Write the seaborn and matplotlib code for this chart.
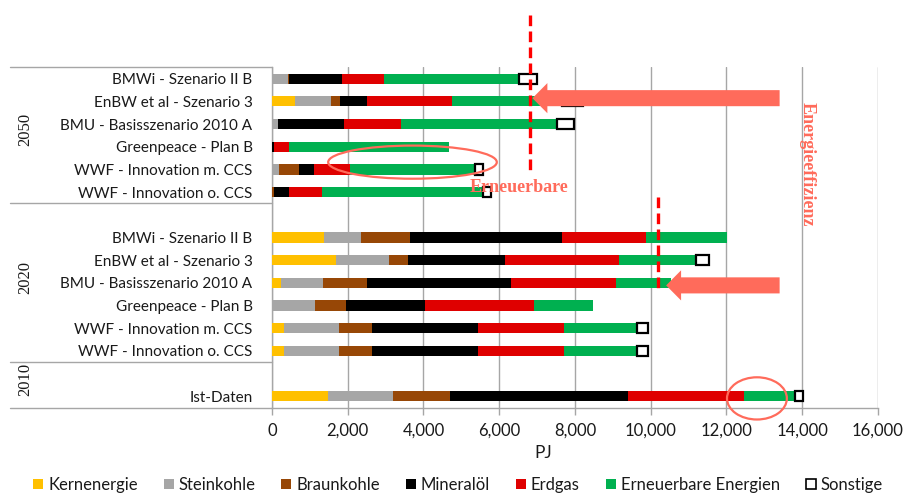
import numpy as np
import pandas as pd
import matplotlib
matplotlib.use("Agg")
import matplotlib.pyplot as plt
import seaborn as sns
from matplotlib.patches import Patch, Ellipse, FancyArrow
from matplotlib.ticker import FuncFormatter

# ---------------- data ----------------
years = ["2050"] * 6 + ["2020"] * 6 + ["2010"]
scenarios = ["BMWi - Szenario II B", "EnBW et al - Szenario 3", "BMU - Basisszenario 2010 A",
             "Greenpeace - Plan B", "WWF - Innovation m. CCS", "WWF - Innovation o. CCS"] * 2 + ["Ist-Daten"]

kernenergie = [0, 610, 0, 0, 0, 0,        1370, 1700, 240, 0, 320, 320,      1480]
steinkohle  = [410, 940, 150, 0, 190, 0,  990, 1390, 1100, 1130, 1460, 1460, 1720]
braunkohle  = [50, 250, 0, 0, 530, 40,    1290, 510, 1160, 820, 860, 860,    1500]
mineraloel  = [1390, 720, 1750, 60, 400, 400, 4020, 2540, 3800, 2080, 2790, 2790, 4710]
erdgas      = [1120, 2230, 1500, 400, 940, 890, 2210, 3030, 2780, 2880, 2280, 2280, 3060]
erneuerbar  = [3550, 2920, 4120, 4220, 3290, 4230, 2130, 2020, 1450, 1560, 1930, 1930, 1340]
sonstige    = [470, 530, 460, 0, 220, 220,  0, 350, 0, 0, 300, 300,       220]

sources = ["Kernenergie", "Steinkohle", "Braunkohle", "Mineralöl", "Erdgas",
           "Erneuerbare Energien", "Sonstige"]
series = [kernenergie, steinkohle, braunkohle, mineraloel, erdgas, erneuerbar, sonstige]
colors = ["#FFC000", "#A6A6A6", "#974706", "#000000", "#DF0000", "#00B050", "#FFFFFF"]

x_ticks = [0, 2000, 4000, 6000, 8000, 10000, 12000, 14000, 16000]
group_years = ["2050", "2020", "2010"]

# ---------------- layout of category slots (blank slot between groups) ----------------
slot_keys, slot_labels, slot_row = [], [], []
prev = None
for i, (yr, sc) in enumerate(zip(years, scenarios)):
    if prev is not None and yr != prev:
        slot_keys.append(f"blank-{yr}")
        slot_labels.append("")
        slot_row.append(None)
    slot_keys.append(f"{yr}|{sc}")
    slot_labels.append(sc)
    slot_row.append(i)
    prev = yr
n_slots = len(slot_keys)

def slot_values(vals):
    return np.array([0.0 if r is None else float(vals[r]) for r in slot_row])

sns.set_theme(style="white")
plt.rcParams["font.family"] = ["Lato", "DejaVu Sans"]

fig = plt.figure(figsize=(9.07, 5.0), dpi=100)
ax = fig.add_axes([0.2999, 0.1846, 0.668, 0.6808])

left = np.zeros(n_slots)
for name, vals, col in zip(sources, series, colors):
    v = slot_values(vals)
    df = pd.DataFrame({"slot": slot_keys, "value": v})
    if name == "Sonstige":
        ec = ["#000000" if val > 0 else "none" for val in v]
        lw = 1.6
    else:
        ec = "none"
        lw = 0
    sns.barplot(data=df, y="slot", x="value", order=slot_keys, orient="y",
                color=col, saturation=1, width=0.45, errorbar=None,
                left=left.copy(), edgecolor=ec, linewidth=lw, ax=ax, zorder=3)
    left = left + v

ax.set_xlim(0, 16000)
ax.set_ylim(n_slots - 0.5, -0.5)
ax.set_xticks(x_ticks)
ax.xaxis.set_major_formatter(FuncFormatter(lambda x, p: f"{x:,.0f}"))
ax.set_yticks(range(n_slots))
ax.set_yticklabels(slot_labels)
ax.set_xlabel("")
ax.set_ylabel("")
ax.grid(axis="x", color="#A6A6A6", lw=1.0)
ax.grid(axis="y", visible=False)
ax.set_axisbelow(True)
for s in ["top", "right"]:
    ax.spines[s].set_visible(False)
for s in ["left", "bottom"]:
    ax.spines[s].set_color("#A6A6A6")
    ax.spines[s].set_linewidth(1.0)
ax.tick_params(axis="x", bottom=True, length=5, width=1, color="#A6A6A6",
               labelsize=12, labelcolor="#1a1a1a", pad=6)
ax.tick_params(axis="y", left=False, length=0, labelsize=11, labelcolor="#1a1a1a", pad=14)

# group separators in label area
sep_x0 = (10 - 272) / 606.0
for yb in [-0.5, 5.5, 12.5, n_slots - 0.5]:
    ax.plot([sep_x0, 0], [yb, yb], transform=ax.get_yaxis_transform(), color="#A6A6A6",
            lw=1.0, clip_on=False)

# year labels
group_spans = {"2050": (-0.5, 5.5), "2020": (5.5, 12.5), "2010": (12.5, 14.5)}
for g in group_years:
    a, b = group_spans[g]
    ax.text(-0.408, (a + b) / 2 - 0.25, g, transform=ax.get_yaxis_transform(), rotation=90,
            ha="center", va="center", fontsize=12, family=["Liberation Serif"], color="#1a1a1a")

fig.text(543 / 907, 1 - 453 / 500, "PJ", ha="center", va="center", fontsize=12.5, color="#1a1a1a")

# annotations
salmon = "#FF6B5B"
ax.plot([6800, 6800], [-2.81, 4.18], color="#FF0000", lw=2.4, ls=(0, (3.2, 1.6)),
        clip_on=False, zorder=6)
ax.plot([10200, 10200], [5.23, 9.43], color="#FF0000", lw=2.4, ls=(0, (3.2, 1.6)),
        clip_on=False, zorder=6)
for ytip, xtip in [(0.86, 6877), (9.11, 10408)]:
    ax.add_patch(FancyArrow(13405, ytip, -(13405 - xtip), 0, width=0.708, head_width=1.33,
                            head_length=395, length_includes_head=True, color=salmon,
                            lw=0, clip_on=False, zorder=7))
ax.add_patch(Ellipse((3710, 3.68), 4453, 1.46, fill=False, edgecolor=salmon, lw=1.6,
                     clip_on=False, zorder=7))
ax.add_patch(Ellipse((12806, 14.09), 1581, 1.86, fill=False, edgecolor=salmon, lw=1.6,
                     clip_on=False, zorder=7))
ax.text(5217, 4.78, "Erneuerbare", ha="left", va="center", fontsize=13, fontweight="bold",
        family=["Liberation Serif"], color=salmon, zorder=8)
ax.text(14124, 3.78, "Energieeffizienz", ha="center", va="center", rotation=-90, fontsize=13,
        fontweight="bold", family=["Liberation Serif"], color=salmon, zorder=8, clip_on=False)

# legend
handles = [Patch(facecolor=c, edgecolor=("#000000" if n == "Sonstige" else c),
                 linewidth=(1.2 if n == "Sonstige" else 0)) for n, c in zip(sources, colors)]
fig.legend(handles, sources, loc="center", bbox_to_anchor=(0.505, 1 - 485 / 500), ncol=7,
           frameon=False, fontsize=12, handlelength=0.6, handleheight=0.6,
           handletextpad=0.3, columnspacing=1.55, labelcolor="#1a1a1a")

fig.savefig("out.png", dpi=100)
